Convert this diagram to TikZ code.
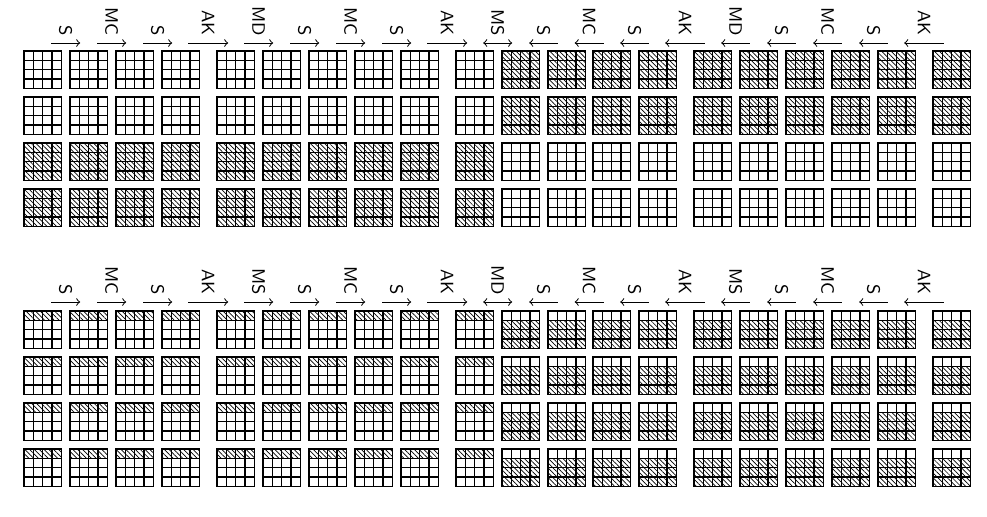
\documentclass[tikz,border=0pt]{standalone}
\usepackage{tikz}
\usetikzlibrary{patterns.meta}

% one 4x4 state; cell rows #3 to #4 (from the top) are hatched
\newcommand{\stategrid}[4]{%
  \begin{scope}[shift={(#1,-#2)}]
    \fill[hatch] (0,-#3*9.35) rectangle (37.4,-#4*9.35);
    \foreach \k in {1,2,3} {
      \draw[cell] (\k*9.35,0) -- (\k*9.35,-37.4);
      \draw[cell] (0,-\k*9.35) -- (37.4,-\k*9.35);
    }
    \draw[cell] (0,0) rectangle (37.4,-37.4);
  \end{scope}}

\def\gxlist{{24,70,116,162,217,263,309,355,401,456,502,548,593,639,694,740,786,832,878,933}}

\begin{document}
\begin{tikzpicture}[x=0.5pt,y=0.5pt,
      cell/.style={line width=0.6pt},
      hatch/.style={pattern={Lines[angle=-45,distance=1.7pt,line width=0.35pt]}},
      arr/.style={line width=0.5pt},
      fw/.style={->}, bw/.style={<-}, bo/.style={<->},
      lbl/.style={font=\sffamily\fontsize{9}{9}\selectfont,rotate=-90,anchor=east,inner sep=0pt}]
    \useasboundingbox (0,0) rectangle (987,-516);
    % upper block
    \foreach \i/\gx in {0/24,1/70,2/116,3/162,4/217,5/263,6/309,7/355,8/401,9/456,
                        10/502,11/548,12/593,13/639,14/694,15/740,16/786,17/832,18/878,19/933} {
      \foreach \gy/\r in {51/0,97/0,143/1,189/1} {
        \pgfmathsetmacro\hh{((\i<10)==(\r==1)) ? 4 : 0}
        \stategrid{\gx}{\gy}{0}{\hh}
      }
      \pgfmathsetmacro\ha{\i<10 ? 0 : 1}
      \pgfmathsetmacro\hb{\i<10 ? 1 : 4}
      \foreach \gy in {311,357,403,449} { \stategrid{\gx}{\gy}{\ha}{\hb} }
    }
    % steps above the upper block
    \foreach \k/\txt/\dir in {0/S/fw,1/MC/fw,2/S/fw,3/AK/fw,4/MD/fw,5/S/fw,6/MC/fw,7/S/fw,8/AK/fw,9/MS/bo,
                              10/S/bw,11/MC/bw,12/S/bw,13/AK/bw,14/MD/bw,15/S/bw,16/MC/bw,17/S/bw,18/AK/bw} {
      \pgfmathsetmacro\xa{\gxlist[\k]+37.4}
      \pgfmathsetmacro\xb{\gxlist[\k+1]}
      \pgfmathsetmacro\mx{(\xa+\xb)/2}
      \pgfmathsetmacro\hl{(\xb-\xa>12) ? 20 : 14.5}
      \coordinate (ta\k) at (\mx-\hl,-43);
      \coordinate (tb\k) at (\mx+\hl,-43);
      \draw[arr,\dir] (ta\k) -- (tb\k);
      \node[lbl] (tl\k) at (\mx,-36) {\txt};
    }
    % steps above the lower block
    \foreach \k/\txt/\dir in {0/S/fw,1/MC/fw,2/S/fw,3/AK/fw,4/MS/fw,5/S/fw,6/MC/fw,7/S/fw,8/AK/fw,9/MD/bo,
                              10/S/bw,11/MC/bw,12/S/bw,13/AK/bw,14/MS/bw,15/S/bw,16/MC/bw,17/S/bw,18/AK/bw} {
      \pgfmathsetmacro\xa{\gxlist[\k]+37.4}
      \pgfmathsetmacro\xb{\gxlist[\k+1]}
      \pgfmathsetmacro\mx{(\xa+\xb)/2}
      \pgfmathsetmacro\hl{(\xb-\xa>12) ? 20 : 14.5}
      \coordinate (ba\k) at (\mx-\hl,-302);
      \coordinate (bb\k) at (\mx+\hl,-302);
      \draw[arr,\dir] (ba\k) -- (bb\k);
      \node[lbl] (bl\k) at (\mx,-295) {\txt};
    }
  \end{tikzpicture}
\end{document}
